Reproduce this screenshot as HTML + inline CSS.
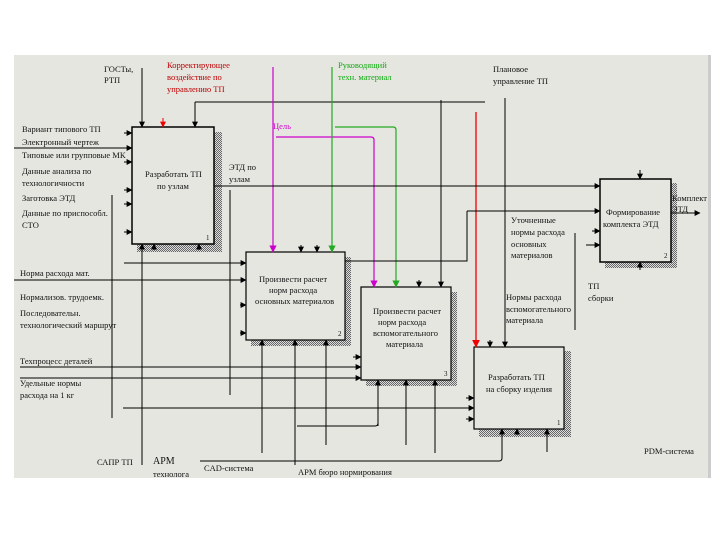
<!DOCTYPE html>
<html><head><meta charset="utf-8"><style>
body{margin:0;background:#fff}
svg{display:block}
text{font-family:"Liberation Serif",serif;font-size:8.5px;fill:#111}
</style></head><body>
<svg width="720" height="540" viewBox="0 0 720 540" xmlns="http://www.w3.org/2000/svg">
<defs>
<marker id="a" viewBox="0 0 10 10" refX="9" refY="5" markerWidth="6" markerHeight="6" orient="auto"><path d="M0,0L10,5L0,10z" fill="#000"/></marker>
<marker id="ar" viewBox="0 0 10 10" refX="9" refY="5" markerWidth="6" markerHeight="6" orient="auto"><path d="M0,0L10,5L0,10z" fill="#e00"/></marker>
<marker id="am" viewBox="0 0 10 10" refX="9" refY="5" markerWidth="6" markerHeight="6" orient="auto"><path d="M0,0L10,5L0,10z" fill="#c0c"/></marker>
<marker id="ag" viewBox="0 0 10 10" refX="9" refY="5" markerWidth="6" markerHeight="6" orient="auto"><path d="M0,0L10,5L0,10z" fill="#2a2"/></marker>
<pattern id="d" width="2" height="2" patternUnits="userSpaceOnUse"><rect width="2" height="2" fill="#ddd"/><rect width="1" height="1" fill="#666"/><rect x="1" y="1" width="1" height="1" fill="#666"/></pattern>
</defs>
<rect x="14" y="55" width="694" height="423" fill="#e6e6e1"/>
<rect x="708" y="55" width="3" height="423" fill="#ccc"/>
<!-- shadows -->
<rect x="214" y="132" width="8" height="118" fill="url(#d)"/><rect x="137" y="244" width="85" height="8" fill="url(#d)"/>
<rect x="345" y="257" width="6" height="89" fill="url(#d)"/><rect x="251" y="340" width="100" height="6" fill="url(#d)"/>
<rect x="451" y="292" width="6" height="94" fill="url(#d)"/><rect x="366" y="380" width="91" height="6" fill="url(#d)"/>
<rect x="564" y="351" width="7" height="86" fill="url(#d)"/><rect x="479" y="429" width="92" height="8" fill="url(#d)"/>
<rect x="671" y="183" width="6" height="85" fill="url(#d)"/><rect x="605" y="262" width="72" height="6" fill="url(#d)"/>
<g fill="none" stroke="#000" stroke-width="1">
<!-- boxes -->
<rect x="132" y="127" width="82" height="117" fill="#e6e6e1" stroke-width="1.5"/>
<rect x="246" y="252" width="99" height="88" fill="#e6e6e1" stroke-width="1.2"/>
<rect x="361" y="287" width="90" height="93" fill="#e6e6e1" stroke-width="1.2"/>
<rect x="474" y="347" width="90" height="82" fill="#e6e6e1" stroke-width="1.2"/>
<rect x="600" y="179" width="71" height="83" fill="#e6e6e1" stroke-width="1.5"/>
<!-- controls top -->
<path d="M142,68V127" marker-end="url(#a)"/>
<path d="M163,118V127" stroke="#e00" marker-end="url(#ar)"/>
<path d="M195,102V127" marker-end="url(#a)"/>
<path d="M195,102H485"/>
<path d="M441,100V287" marker-end="url(#a)"/>
<path d="M505,98V347" marker-end="url(#a)"/>
<path d="M490,340V347" marker-end="url(#a)"/>
<path d="M419,280V287" marker-end="url(#a)"/>
<path d="M301,245V252" marker-end="url(#a)"/>
<path d="M317,245V252" marker-end="url(#a)"/>
<path d="M476,112V347" stroke="#e00" stroke-width="1.3" marker-end="url(#ar)"/>
<path d="M273,67V252" stroke="#c0c" stroke-width="1.2" marker-end="url(#am)"/>
<path d="M276,137H371Q374,137 374,140V287" stroke="#c0c" stroke-width="1.2" marker-end="url(#am)"/>
<path d="M332,67V252" stroke="#2a2" stroke-width="1.2" marker-end="url(#ag)"/>
<path d="M335,127H393Q396,127 396,130V287" stroke="#2a2" stroke-width="1.2" marker-end="url(#ag)"/>
<path d="M640,170V179" marker-end="url(#a)"/>
<!-- box1 inputs -->
<path d="M124,133H132" marker-end="url(#a)"/>
<path d="M14,148H132" marker-end="url(#a)"/>
<path d="M124,162H132" marker-end="url(#a)"/>
<path d="M124,190H132" marker-end="url(#a)"/>
<path d="M124,204H132" marker-end="url(#a)"/>
<path d="M124,232H132" marker-end="url(#a)"/>
<!-- box1 outputs -->
<path d="M214,186H600" marker-end="url(#a)"/>
<path d="M230,190V395"/>
<path d="M112,195V418"/>
<!-- box5 -->
<path d="M467,211H600" marker-end="url(#a)"/>
<path d="M467,211V261H345"/>
<path d="M592,231H600" marker-end="url(#a)"/>
<path d="M586,245H600" marker-end="url(#a)"/>
<path d="M671,213H700" marker-end="url(#a)"/>
<path d="M640,270V262" marker-end="url(#a)"/>
<path d="M575,233V330"/>
<!-- box2 inputs -->
<path d="M124,263H246" marker-end="url(#a)"/>
<path d="M14,280H246" marker-end="url(#a)"/>
<path d="M240,305H246" marker-end="url(#a)"/>
<path d="M240,333H246" marker-end="url(#a)"/>
<!-- box3 inputs -->
<path d="M353,357H361" marker-end="url(#a)"/>
<path d="M20,367H361" marker-end="url(#a)"/>
<path d="M20,378H361" marker-end="url(#a)"/>
<!-- box4 inputs -->
<path d="M466,398H474" marker-end="url(#a)"/>
<path d="M123,408H474" marker-end="url(#a)"/>
<path d="M466,419H474" marker-end="url(#a)"/>
<!-- mechanisms -->
<path d="M142,465V244" marker-end="url(#a)"/>
<path d="M154,250V244" marker-end="url(#a)"/>
<path d="M199,250V244" marker-end="url(#a)"/>
<path d="M262,453V340" marker-end="url(#a)"/>
<path d="M295,465V340" marker-end="url(#a)"/>
<path d="M326,445V340" marker-end="url(#a)"/>
<path d="M378,423Q378,426 375,426H297"/>
<path d="M378,426V380" marker-end="url(#a)"/>
<path d="M406,445V380" marker-end="url(#a)"/>
<path d="M435,453V380" marker-end="url(#a)"/>
<path d="M200,461H499Q502,461 502,458V429" marker-end="url(#a)"/>
<path d="M517,435V429" marker-end="url(#a)"/>
<path d="M547,452V429" marker-end="url(#a)"/>
</g>
<!-- labels -->
<text x="104" y="72">ГОСТы,</text><text x="104" y="83">РТП</text>
<text x="167" y="68" style="fill:#b00">Корректирующее</text><text x="167" y="80" style="fill:#b00">воздействие по</text><text x="167" y="92" style="fill:#b00">управлению ТП</text>
<text x="338" y="68" style="fill:#1a1">Руководящий</text><text x="338" y="80" style="fill:#1a1">техн. материал</text>
<text x="493" y="72">Плановое</text><text x="493" y="84">управление ТП</text>
<text x="273" y="129" style="fill:#c0c">Цель</text>
<text x="22" y="132">Вариант типового ТП</text>
<text x="22" y="145">Электронный чертеж</text>
<text x="22" y="158">Типовые или групповые МК</text>
<text x="22" y="174">Данные анализа по</text><text x="22" y="186">технологичности</text>
<text x="22" y="201">Заготовка ЭТД</text>
<text x="22" y="216">Данные по приспособл.</text><text x="22" y="228">СТО</text>
<text x="229" y="170">ЭТД по</text><text x="229" y="182">узлам</text>
<text x="145" y="177">Разработать ТП</text><text x="157" y="189">по узлам</text>
<text x="606" y="215">Формирование</text><text x="603" y="227">комплекта ЭТД</text>
<text x="672" y="201">Комплект</text><text x="672" y="212">ЭТД</text>
<text x="511" y="223">Уточненные</text><text x="511" y="235">нормы расхода</text><text x="511" y="247">основных</text><text x="511" y="258">материалов</text>
<text x="20" y="276">Норма расхода мат.</text>
<text x="20" y="300">Нормализов. трудоемк.</text>
<text x="20" y="316">Последовательн.</text><text x="20" y="328">технологический маршрут</text>
<text x="20" y="364">Техпроцесс деталей</text>
<text x="20" y="386">Удельные нормы</text><text x="20" y="398">расхода на 1 кг</text>
<text x="259" y="282">Произвести расчет</text><text x="269" y="293">норм расхода</text><text x="255" y="304">основных материалов</text>
<text x="373" y="314">Произвести расчет</text><text x="378" y="325">норм расхода</text><text x="373" y="336">вспомогательного</text><text x="386" y="347">материала</text>
<text x="488" y="380">Разработать ТП</text><text x="486" y="392">на сборку изделия</text>
<text x="506" y="300">Нормы расхода</text><text x="506" y="312">вспомогательного</text><text x="506" y="323">материала</text>
<text x="588" y="289">ТП</text><text x="588" y="301">сборки</text>
<text x="97" y="465">САПР ТП</text>
<text x="153" y="464" style="font-size:10px">АРМ</text><text x="153" y="477">технолога</text>
<text x="204" y="471">CAD-система</text>
<text x="298" y="475">АРМ бюро нормирования</text>
<text x="644" y="454">PDM-система</text>
<text x="206" y="240" style="font-size:7px">1</text><text x="338" y="336" style="font-size:7px">2</text>
<text x="444" y="376" style="font-size:7px">3</text><text x="557" y="425" style="font-size:7px">1</text><text x="664" y="258" style="font-size:7px">2</text>
</svg>
</body></html>
